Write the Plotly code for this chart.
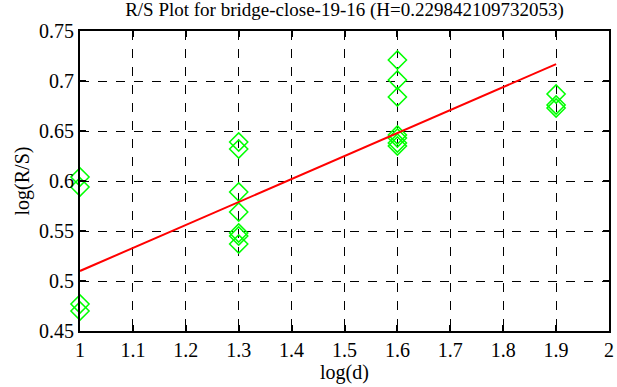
import plotly.graph_objects as go

# data
log_d = [1.0, 1.0, 1.0, 1.0,
         1.3, 1.3, 1.3, 1.3, 1.3, 1.3, 1.3,
         1.6, 1.6, 1.6, 1.6, 1.6, 1.6, 1.6,
         1.9, 1.9, 1.9]
log_rs = [0.604, 0.594, 0.477, 0.470,
          0.639, 0.632, 0.589, 0.569, 0.548, 0.545, 0.537,
          0.721, 0.701, 0.684, 0.646, 0.643, 0.638, 0.635,
          0.687, 0.676, 0.673]
H = 0.229842109732053
intercept = 0.2802
fit_x = [1.0, 1.9]
fit_y = [intercept + H * x for x in fit_x]

x_ticks = [1.0, 1.1, 1.2, 1.3, 1.4, 1.5, 1.6, 1.7, 1.8, 1.9, 2.0]
x_ticklabels = ["1", "1.1", "1.2", "1.3", "1.4", "1.5", "1.6", "1.7", "1.8", "1.9", "2"]
y_ticks = [0.45, 0.5, 0.55, 0.6, 0.65, 0.7, 0.75]
y_ticklabels = ["0.45", "0.5", "0.55", "0.6", "0.65", "0.7", "0.75"]

font = "Liberation Serif"

fig = go.Figure()
fig.add_trace(go.Scatter(
    x=log_d, y=log_rs, mode="markers",
    marker=dict(symbol="diamond-open", size=14, color="#00ff00",
                line=dict(width=1.5, color="#00ff00")),
    cliponaxis=False, showlegend=False, hoverinfo="skip"))
fig.add_trace(go.Scatter(
    x=fit_x, y=fit_y, mode="lines",
    line=dict(color="#ff0000", width=2),
    showlegend=False, hoverinfo="skip"))

axis_common = dict(
    showgrid=True, gridcolor="black", griddash="dash", gridwidth=1,
    showline=True, linecolor="black", linewidth=2, mirror="ticks",
    ticks="inside", ticklen=6, tickwidth=2, tickcolor="black",
    zeroline=False, automargin=False, ticklabeloverflow="allow",
    tickfont=dict(family=font, size=20, color="black"),
)

fig.update_layout(
    width=617, height=387,
    margin=dict(l=80, r=8, t=31, b=56),
    paper_bgcolor="white", plot_bgcolor="white",
    title=dict(text="R/S Plot for bridge-close-19-16 (H=0.229842109732053)",
               x=0.5, xref="paper", xanchor="center", y=0.975, yanchor="middle",
               font=dict(family=font, size=19, color="black")),
    xaxis=dict(range=[1, 2], tickvals=x_ticks, ticktext=x_ticklabels,
               title=dict(text="log(d)", font=dict(family=font, size=20, color="black"),
                          standoff=2),
               **axis_common),
    yaxis=dict(range=[0.45, 0.75], tickvals=y_ticks, ticktext=y_ticklabels,
               title=dict(text="log(R/S)", font=dict(family=font, size=20, color="black"),
                          standoff=4),
               **axis_common),
)

fig.write_html("out.html",
               config={"displayModeBar": False, "staticPlot": True},
               post_script="document.body.style.margin='0';document.body.style.overflow='hidden';")
